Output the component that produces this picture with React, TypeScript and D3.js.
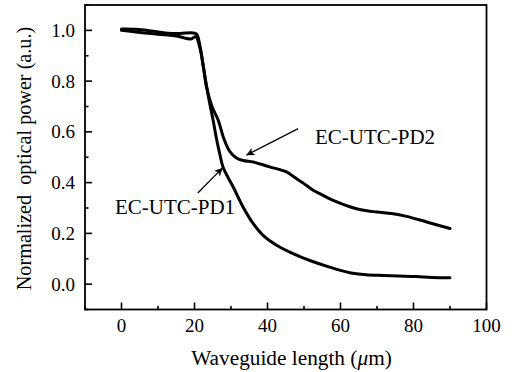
import React from "react";
import * as d3 from "d3";

const pd1X = [0, 5, 10, 15, 19, 20.3, 21.5, 22.5, 23.3, 24.2, 25.1, 26.0, 26.9, 27.8, 29.2, 30.6, 33.3, 36.1, 38.8, 42.5, 47, 51.6, 57, 62.5, 67, 71.7, 76, 80.8, 85, 90];
const pd1Y = [1.0, 0.992, 0.985, 0.978, 0.966, 0.975, 0.93, 0.85, 0.78, 0.71, 0.646, 0.575, 0.514, 0.462, 0.42, 0.383, 0.304, 0.238, 0.192, 0.153, 0.12, 0.093, 0.067, 0.045, 0.037, 0.034, 0.032, 0.03, 0.026, 0.025];

const pd2X = [0, 4, 8, 12, 16, 19.5, 20.6, 21.6, 22.5, 23.3, 24.8, 26.5, 28.0, 29.7, 31.5, 33.3, 36.1, 40.6, 45.2, 47.5, 49.8, 52.5, 54.3, 58, 64.4, 69.9, 74, 78.1, 83.6, 90];
const pd2Y = [1.005, 1.004, 0.998, 0.99, 0.988, 0.99, 0.985, 0.93, 0.85, 0.777, 0.70, 0.646, 0.575, 0.522, 0.497, 0.487, 0.481, 0.462, 0.442, 0.42, 0.398, 0.37, 0.357, 0.33, 0.297, 0.284, 0.278, 0.267, 0.245, 0.219];

const xTicks = [0, 20, 40, 60, 80, 100];
const xMinor = [-10, 10, 30, 50, 70, 90];
const yTicks = [0.0, 0.2, 0.4, 0.6, 0.8, 1.0];
const yMinor = [-0.1, 0.1, 0.3, 0.5, 0.7, 0.9, 1.1];

const labels = [
  { text: "EC-UTC-PD2", x: 53.0, y: 0.554 },
  { text: "EC-UTC-PD1", x: -1.8, y: 0.278 },
];
const arrows = [
  { x1: 48.4, y1: 0.613, x2: 34.2, y2: 0.508 },
  { x1: 20.9, y1: 0.359, x2: 27.7, y2: 0.458 },
];

const W = 517, H = 372;
const L = 85, R = 486.5, T = 5, B = 309.5;
const FONT = '"Liberation Serif"';

export default function App() {
  const x = d3.scaleLinear().domain([-10, 100]).range([L, R]);
  const y = d3.scaleLinear().domain([-0.1, 1.1]).range([B, T]);
  const line = d3
    .line<[number, number]>()
    .x((d) => x(d[0]))
    .y((d) => y(d[1]))
    .curve(d3.curveCatmullRom.alpha(0.5));
  const d1 = line(pd1X.map((v, i) => [v, pd1Y[i]] as [number, number])) || "";
  const d2 = line(pd2X.map((v, i) => [v, pd2Y[i]] as [number, number])) || "";
  const ts: React.CSSProperties = { fontFamily: FONT };

  return (
    <svg width={W} height={H} style={{ position: "absolute", left: 0, top: 0, background: "#fff" }}>
      <defs>
        <marker id="ah" viewBox="0 0 10 10" refX="10" refY="5" markerWidth="11" markerHeight="8" markerUnits="userSpaceOnUse" orient="auto">
          <path d="M0,0 L10,5 L0,10 L2.5,5 Z" fill="#000" />
        </marker>
      </defs>
      <rect x={0} y={0} width={W} height={H} fill="#fff" />
      <path d={d1} fill="none" stroke="#000" strokeWidth={3} strokeLinejoin="round" strokeLinecap="round" />
      <path d={d2} fill="none" stroke="#000" strokeWidth={3} strokeLinejoin="round" strokeLinecap="round" />
      <rect x={L} y={T} width={R - L} height={B - T} fill="none" stroke="#000" strokeWidth={1.8} />
      {xTicks.map((t) => (
        <g key={"xt" + t}>
          <line x1={x(t)} x2={x(t)} y1={B} y2={B - 7} stroke="#000" strokeWidth={1.6} />
          <text x={x(t)} y={B + 22} textAnchor="middle" fontSize={19} style={ts}>{t}</text>
        </g>
      ))}
      {xMinor.map((t) => (
        <line key={"xm" + t} x1={x(t)} x2={x(t)} y1={B} y2={B - 3.5} stroke="#000" strokeWidth={1.6} />
      ))}
      {yTicks.map((t) => (
        <g key={"yt" + t}>
          <line x1={L} x2={L + 7} y1={y(t)} y2={y(t)} stroke="#000" strokeWidth={1.6} />
          <text x={L - 10} y={y(t) + 6.5} textAnchor="end" fontSize={19} style={ts}>{t.toFixed(1)}</text>
        </g>
      ))}
      {yMinor.map((t) => (
        <line key={"ym" + t} x1={L} x2={L + 3.5} y1={y(t)} y2={y(t)} stroke="#000" strokeWidth={1.6} />
      ))}
      <text x={291.5} y={365} textAnchor="middle" fontSize={21.3} style={ts}>
        Waveguide length (<tspan fontStyle="italic">μ</tspan>m)
      </text>
      <text transform={`translate(31,${158.5}) rotate(-90)`} textAnchor="middle" fontSize={20.2} style={{ ...ts, whiteSpace: "pre" }}>
        {"Normalized  optical power (a.u.)"}
      </text>
      {labels.map((l) => (
        <text key={l.text} x={x(l.x)} y={y(l.y)} fontSize={21} style={ts}>{l.text}</text>
      ))}
      {arrows.map((a, i) => (
        <line key={"a" + i} x1={x(a.x1)} y1={y(a.y1)} x2={x(a.x2)} y2={y(a.y2)} stroke="#000" strokeWidth={1.3} markerEnd="url(#ah)" />
      ))}
    </svg>
  );
}
